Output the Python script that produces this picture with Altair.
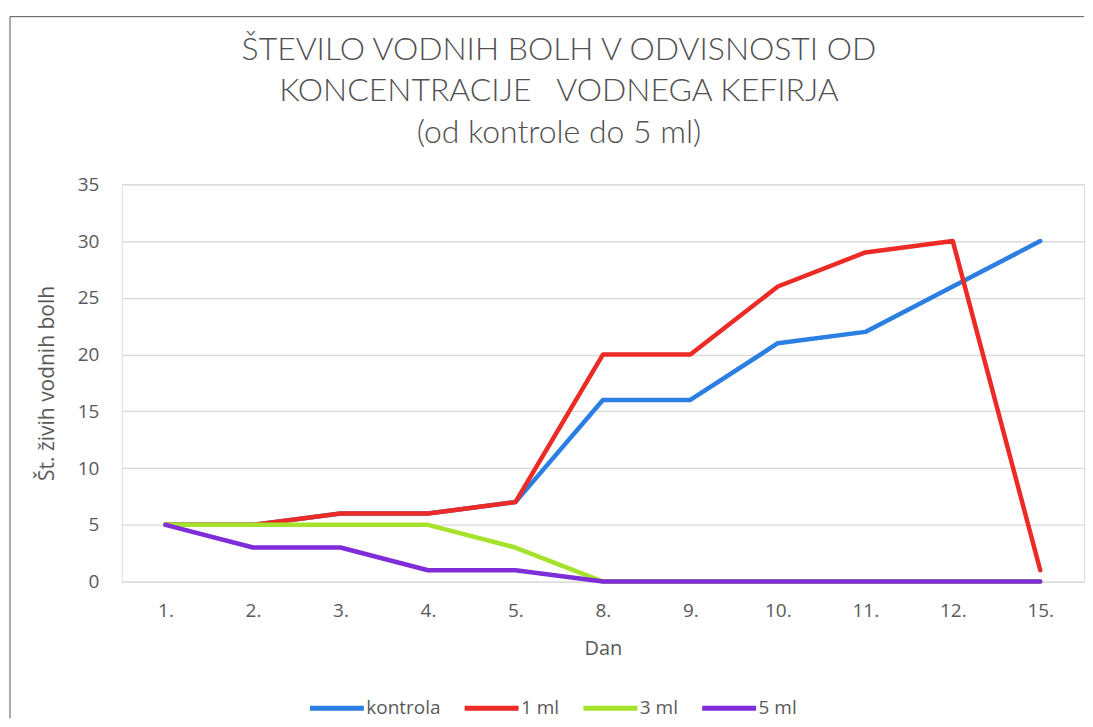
import altair as alt
import pandas as pd

days = ["1.", "2.", "3.", "4.", "5.", "8.", "9.", "10.", "11.", "12.", "15."]
series_names = ["kontrola", "1 ml", "3 ml", "5 ml"]
kontrola = [5, 5, 6, 6, 7, 16, 16, 21, 22, 26, 30]
ml1 = [5, 5, 6, 6, 7, 20, 20, 26, 29, 30, 1]
ml3 = [5, 5, 5, 5, 3, 0, 0, 0, 0, 0, 0]
ml5 = [5, 3, 3, 1, 1, 0, 0, 0, 0, 0, 0]
colors = ["#2B7FE2", "#EC2A26", "#A5E22C", "#7E2DD8"]
title_lines = ["ŠTEVILO VODNIH BOLH V ODVISNOSTI OD",
               "KONCENTRACIJE\u00a0\u00a0 VODNEGA KEFIRJA",
               "(od kontrole do 5 ml)"]

rows = []
for name, vals in zip(series_names, [kontrola, ml1, ml3, ml5]):
    for d, v in zip(days, vals):
        rows.append({"dan": d, "vrednost": v, "serija": name})
df = pd.DataFrame(rows)

FONT = "Open Sans"
TXT = "#595959"

color = alt.Color(
    "serija:N",
    scale=alt.Scale(domain=series_names, range=colors),
    legend=alt.Legend(
        title=None, orient="none", direction="horizontal",
        legendX=186, legendY=515, clipHeight=20,
        symbolType="stroke", symbolSize=2916, symbolStrokeWidth=5,
        labelFontSize=19, labelColor=TXT, labelFont=FONT,
        labelOffset=0, columnPadding=21,
    ),
)

x = alt.X(
    "dan:O", sort=days, scale=alt.Scale(type="point", padding=0.5),
    axis=alt.Axis(title="Dan", labelAngle=0, ticks=False, domain=False, grid=False,
                  labelPadding=20, titlePadding=18, labelFontSize=19, titleFontSize=20,
                  labelColor=TXT, titleColor=TXT, labelFont=FONT, titleFont=FONT,
                  titleFontWeight="normal"),
)
y = alt.Y(
    "vrednost:Q", scale=alt.Scale(domain=[0, 35]),
    axis=alt.Axis(title="Št. živih vodnih bolh", values=[0, 5, 10, 15, 20, 25, 30, 35],
                  ticks=False, domain=False, gridColor="#d9d9d9", gridWidth=1.3,
                  labelPadding=23, titlePadding=20, labelFontSize=19, titleFontSize=21,
                  labelColor=TXT, titleColor=TXT, labelFont=FONT, titleFont=FONT,
                  titleFontWeight="normal"),
)

layers = []
for name in series_names:
    layers.append(
        alt.Chart(df).transform_filter(alt.datum.serija == name)
        .mark_line(strokeWidth=4.5, strokeCap="round", strokeJoin="round")
        .encode(x=x, y=y, color=color)
    )

frame = alt.Data(values=[{}])
border_left = alt.Chart(frame).mark_rule(color="#555555", strokeWidth=1).encode(
    x=alt.value(-112), y=alt.value(-168), y2=alt.value(535))
border_top = alt.Chart(frame).mark_rule(color="#555555", strokeWidth=1).encode(
    x=alt.value(-112), x2=alt.value(964), y=alt.value(-168))

title_marks = []
for line, ty in zip(title_lines, [-135, -93, -51]):
    title_marks.append(
        alt.Chart(frame).mark_text(font="Lato", fontSize=32, fontWeight=300, color="#505050",
                                   align="center", baseline="middle")
        .encode(x=alt.value(438), y=alt.value(ty), text=alt.value(line))
    )

chart = alt.layer(border_left, border_top, *title_marks, *layers).properties(
    width=964, height=398,
    padding={"left": 1, "top": 7, "right": 0, "bottom": 0},
).configure_view(strokeWidth=0, strokeOpacity=0).configure(background="white")

chart.save("out.html", embed_options={"renderer": "svg", "actions": False})
